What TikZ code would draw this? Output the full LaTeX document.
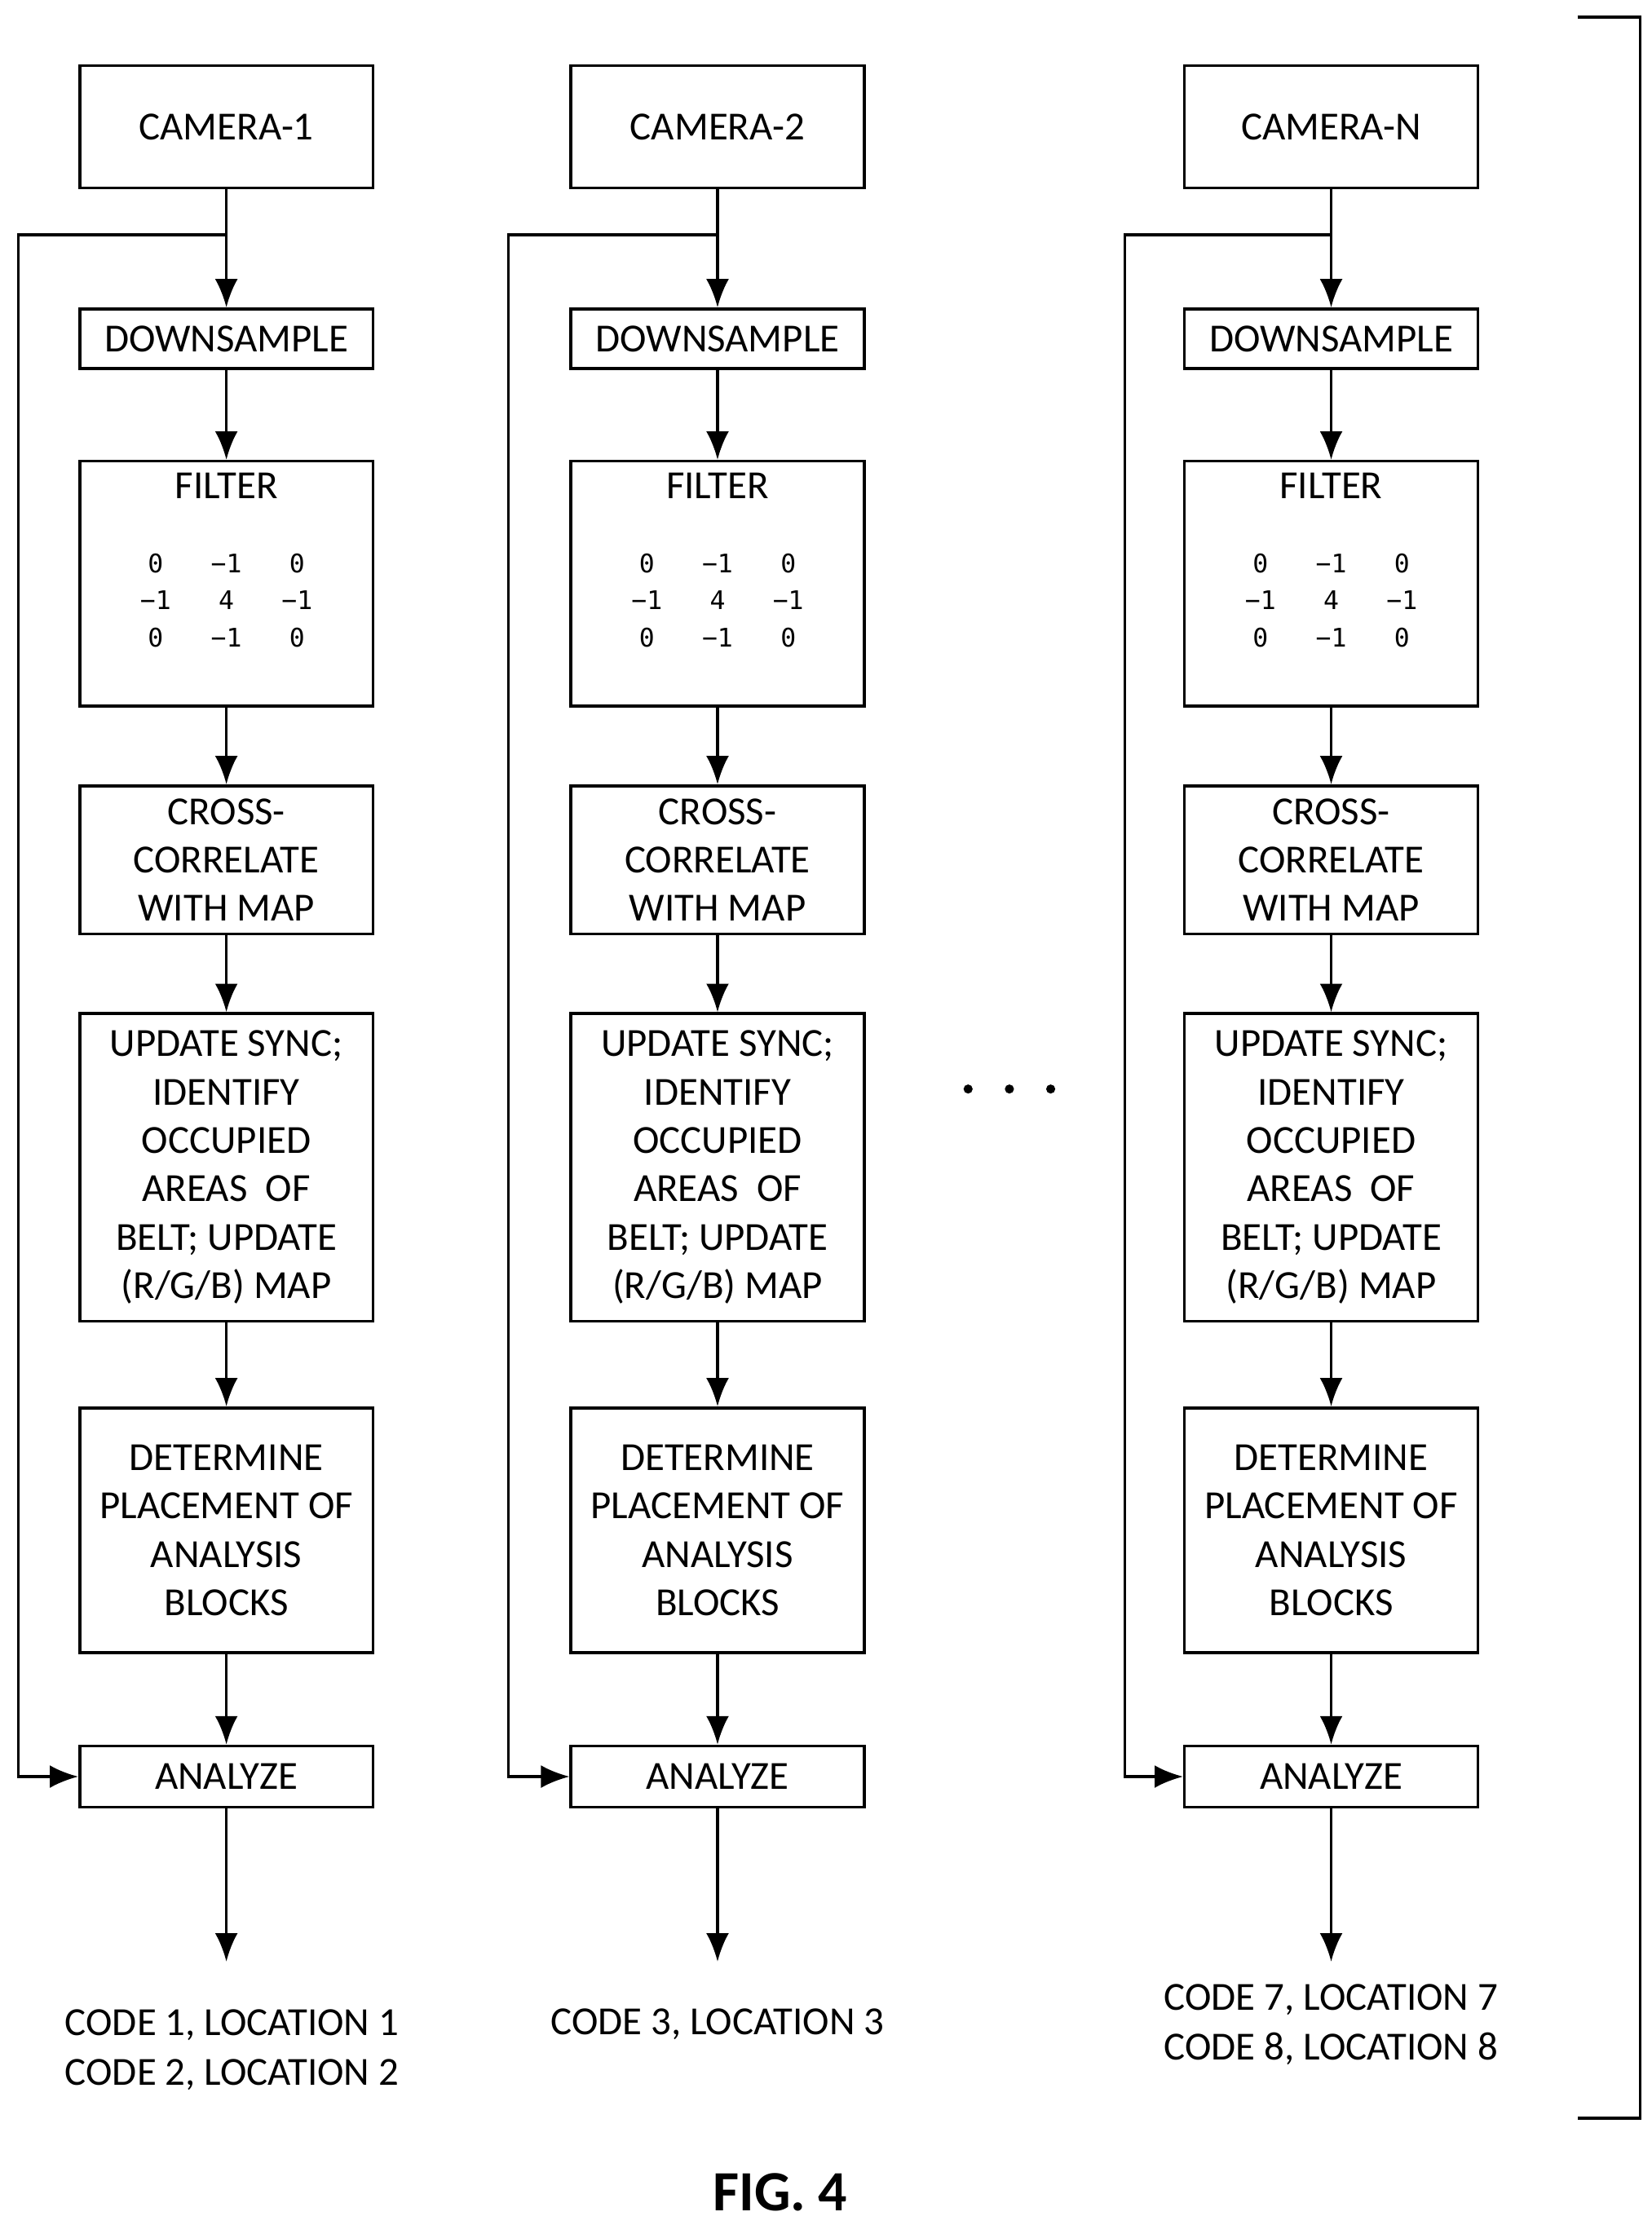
\documentclass[tikz,border=0pt]{standalone}
\usepackage{fontspec}
\setmainfont{Carlito}
\newfontfamily\matfont{DejaVu Sans Mono}
\usetikzlibrary{arrows.meta}
\tikzset{>={Latex[width=8pt,length=10pt]}}
\tikzset{
  blk/.style={draw, line width=1pt, minimum width=103pt, inner sep=0pt, align=center, font=\fontsize{14}{17}\selectfont},
  txt/.style={font=\fontsize{14}{17.5}\selectfont, align=center, inner sep=0pt},
  mat/.style={font=\matfont\fontsize{9}{13}\selectfont, inner sep=0pt},
  flow/.style={->, line width=1pt},
}
\begin{document}
\begin{tikzpicture}[x=0.5pt, y=-0.5pt]
  \useasboundingbox (0,0) rectangle (1160,1563);

  \foreach \c/\x/\lx/\cam in {a/159/13/CAMERA-1, b/504/357/CAMERA-2, n/935/790/CAMERA-N} {
    \node[blk, minimum height=43pt] (cam\c) at (\x, 89) {\cam};
    \node[blk, minimum height=21pt] (dwn\c) at (\x, 238) {DOWNSAMPLE};
    \node[blk, minimum height=86pt] (flt\c) at (\x, 410) {};
    \node[txt] (fltt\c) at (\x, 341) {FILTER};
    \node[mat] (fltm\c) at (\x, 423) {\begin{tabular}{@{}c@{\hspace{14pt}}c@{\hspace{14pt}}c@{}}0&−1&0\\−1&4&−1\\0&−1&0\end{tabular}};
    \node[blk, minimum height=52pt] (xcr\c) at (\x, 604) {CROSS-\\CORRELATE\\WITH MAP};
    \node[blk, minimum height=108pt] (upd\c) at (\x, 820) {UPDATE SYNC;\\IDENTIFY\\OCCUPIED\\AREAS~ OF\\BELT; UPDATE\\(R/G/B) MAP};
    \node[blk, minimum height=86pt] (det\c) at (\x, 1075) {DETERMINE\\PLACEMENT OF\\ANALYSIS\\BLOCKS};
    \node[blk, minimum height=21.5pt] (ana\c) at (\x, 1248) {ANALYZE};
    \coordinate (tap\c) at (\x, 165);
    \coordinate (out\c) at (\x, 1378);

    \draw[flow] (cam\c) -- (dwn\c);
    \draw[flow] (dwn\c) -- (flt\c);
    \draw[flow] (flt\c) -- (xcr\c);
    \draw[flow] (xcr\c) -- (upd\c);
    \draw[flow] (upd\c) -- (det\c);
    \draw[flow] (det\c) -- (ana\c);
    \draw[flow] (ana\c) -- (out\c);
    \draw[flow] (tap\c) -- (\lx, 165) |- (ana\c.west);
  }

  % outputs
  \node[txt] (codea) at (163, 1440) {CODE 1, LOCATION 1\\CODE 2, LOCATION 2};
  \node[txt] (codeb) at (504, 1422) {CODE 3, LOCATION 3};
  \node[txt] (coden) at (935, 1422) {CODE 7, LOCATION 7\\CODE 8, LOCATION 8};

  % dots between columns
  \foreach \d in {680, 709, 738}
    \fill (\d, 765) circle (1.6pt);

  % bracket
  \draw[line width=1pt] (1108, 12) -- (1152, 12) -- (1152, 1488) -- (1108, 1488);

  \node[font=\bfseries\fontsize{20}{24}\selectfont] (fig) at (548, 1540) {FIG. 4};
\end{tikzpicture}
\end{document}
